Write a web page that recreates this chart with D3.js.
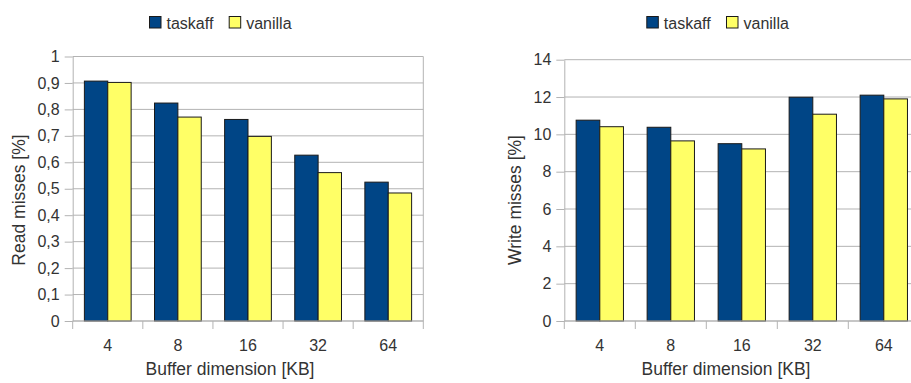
<!DOCTYPE html>
<html>
<head>
<meta charset="utf-8">
<script src="https://cdn.jsdelivr.net/npm/d3@7/dist/d3.min.js"></script>
<style>
  html, body { margin: 0; padding: 0; background: #ffffff; }
  svg { display: block; }
  text { font-family: "Liberation Sans", Arial, sans-serif; fill: #333333; }
</style>
</head>
<body>
<svg id="chart" width="911" height="383"></svg>
<script>
// Buffer sizes on the x axis (KB)
const categories = ["4", "8", "16", "32", "64"];
const seriesNames = ["taskaff", "vanilla"];
const seriesColors = ["#004586", "#ffff66"];

// Read misses [%]
const readTaskaff = [0.907, 0.824, 0.762, 0.627, 0.525];
const readVanilla = [0.902, 0.771, 0.698, 0.561, 0.484];
const readTicks = [0, 0.1, 0.2, 0.3, 0.4, 0.5, 0.6, 0.7, 0.8, 0.9, 1];

// Write misses [%]
const writeTaskaff = [10.76, 10.38, 9.50, 11.99, 12.10];
const writeVanilla = [10.41, 9.65, 9.22, 11.08, 11.90];
const writeTicks = [0, 2, 4, 6, 8, 10, 12, 14];

const xTitle = "Buffer dimension [KB]";

// Decimal comma for tick labels
const locale = d3.formatLocale({ decimal: ",", thousands: ".", grouping: [3], currency: ["", " €"] });
const fmt = locale.format("~g");

const panels = [
  {
    title: "Read misses [%]", values: [readTaskaff, readVanilla], ticks: readTicks, yMax: 1,
    left: 72.7, right: 423.3, top: 56.5, bottom: 321,
    yTitleX: 19, legendX: 149, xTitleX: 230
  },
  {
    title: "Write misses [%]", values: [writeTaskaff, writeVanilla], ticks: writeTicks, yMax: 14,
    left: 564.3, right: 919.3, top: 59.7, bottom: 321,
    yTitleX: 515, legendX: 646.3, xTitleX: 726
  }
];

const svg = d3.select("#chart");
const gridColor = "#b3b3b3";

panels.forEach(p => {
  const g = svg.append("g");

  const x = d3.scaleBand().domain(categories).range([p.left, p.right]).padding(0);
  const bw = x.bandwidth();
  const xs = d3.scaleBand().domain(seriesNames).range([bw / 6, bw * 5 / 6]).padding(0);
  const y = d3.scaleLinear().domain([0, p.yMax]).range([p.bottom, p.top]);

  // horizontal gridlines
  g.append("g").selectAll("line").data(p.ticks).join("line")
    .attr("x1", p.left).attr("x2", p.right)
    .attr("y1", d => y(d)).attr("y2", d => y(d))
    .attr("stroke", gridColor).attr("stroke-width", 1);

  // right frame edge
  g.append("line")
    .attr("x1", p.right).attr("x2", p.right)
    .attr("y1", y(p.yMax)).attr("y2", y(0))
    .attr("stroke", gridColor);

  // bars
  seriesNames.forEach((s, si) => {
    g.append("g").selectAll("rect").data(categories).join("rect")
      .attr("x", c => x(c) + xs(s))
      .attr("width", xs.bandwidth())
      .attr("y", (c, i) => y(p.values[si][i]))
      .attr("height", (c, i) => y(0) - y(p.values[si][i]))
      .attr("fill", seriesColors[si])
      .attr("stroke", "#1a1a1a")
      .attr("stroke-width", 1);
  });

  // y axis
  const yAxis = d3.axisLeft(y).tickValues(p.ticks).tickFormat(fmt).tickSizeInner(8).tickSizeOuter(0).tickPadding(5);
  const ya = g.append("g").attr("transform", `translate(${p.left},0)`).call(yAxis);
  ya.select(".domain").attr("stroke", gridColor);
  ya.selectAll(".tick line").attr("stroke", gridColor);
  ya.selectAll(".tick text").attr("font-size", 16).attr("fill", "#333333")
    .attr("font-family", "Liberation Sans, Arial, sans-serif");

  // x axis: boundary ticks between categories, labels centred on bands
  const edges = categories.map(c => x(c)).concat([p.right]);
  g.append("line").attr("x1", p.left).attr("x2", p.right)
    .attr("y1", y(0)).attr("y2", y(0)).attr("stroke", gridColor);
  g.append("g").selectAll("line").data(edges).join("line")
    .attr("x1", d => d).attr("x2", d => d)
    .attr("y1", y(0)).attr("y2", y(0) + 8)
    .attr("stroke", gridColor);
  g.append("g").selectAll("text").data(categories).join("text")
    .attr("x", c => x(c) + bw / 2).attr("y", y(0) + 30)
    .attr("text-anchor", "middle").attr("font-size", 16)
    .text(c => c);

  // axis titles
  g.append("text").attr("x", p.xTitleX).attr("y", 375)
    .attr("text-anchor", "middle").attr("font-size", 17.5)
    .text(xTitle);
  g.append("text")
    .attr("transform", `translate(${p.yTitleX + 6},200) rotate(-90)`)
    .attr("text-anchor", "middle").attr("font-size", 17.5)
    .text(p.title);

  // legend
  const lg = g.append("g").attr("transform", `translate(${p.legendX},16)`);
  const offsets = [0, 79.7];
  seriesNames.forEach((s, si) => {
    lg.append("rect").attr("x", offsets[si] + 0.5).attr("y", 0.5)
      .attr("width", 11.5).attr("height", 11.5)
      .attr("fill", seriesColors[si]).attr("stroke", "#1a1a1a");
    lg.append("text").attr("x", offsets[si] + 17.5).attr("y", 12.5)
      .attr("font-size", 16).text(s);
  });
});
</script>
</body>
</html>
